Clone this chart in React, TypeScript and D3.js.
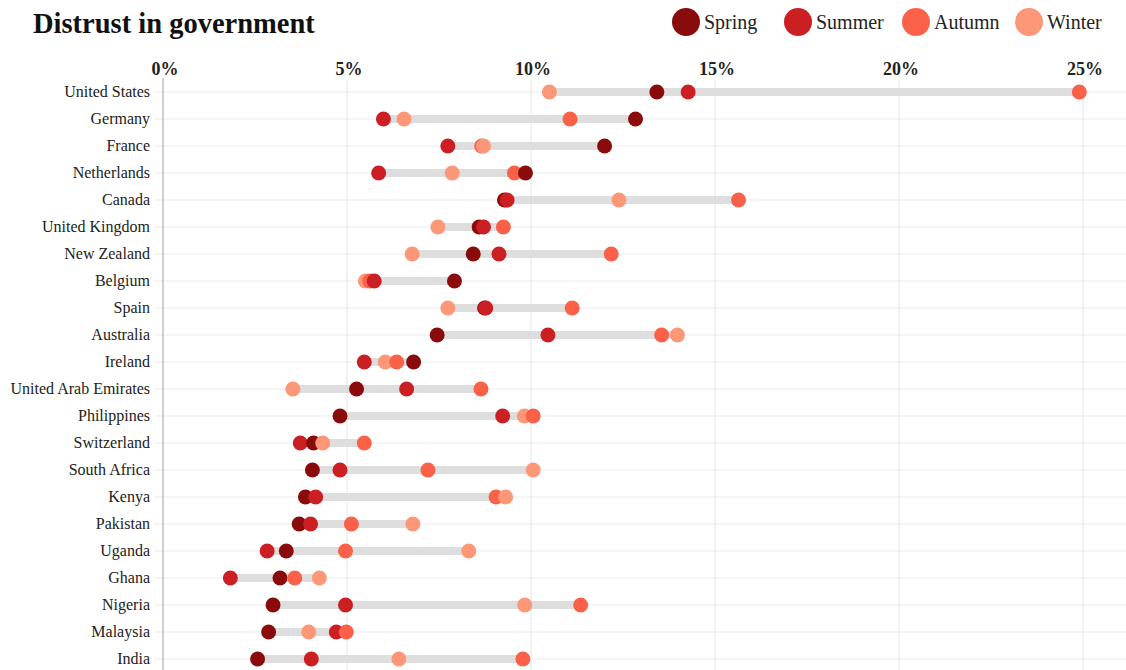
import React from 'react';
import * as d3 from 'd3';

// Distrust in government, share of respondents per season (%)
const countries = [
  'United States', 'Germany', 'France', 'Netherlands', 'Canada', 'United Kingdom',
  'New Zealand', 'Belgium', 'Spain', 'Australia', 'Ireland', 'United Arab Emirates',
  'Philippines', 'Switzerland', 'South Africa', 'Kenya', 'Pakistan', 'Uganda',
  'Ghana', 'Nigeria', 'Malaysia', 'India',
];

const seasons = ['Spring', 'Summer', 'Autumn', 'Winter'];

const spring = [13.42, 12.84, 12.0, 9.85, 9.28, 8.59, 8.43, 7.92, 8.74, 7.45, 6.81, 5.26, 4.81, 4.09, 4.06, 3.87, 3.7, 3.35, 3.18, 2.99, 2.87, 2.57];
const summer = [14.27, 5.99, 7.74, 5.86, 9.35, 8.71, 9.13, 5.74, 8.77, 10.46, 5.47, 6.62, 9.23, 3.73, 4.81, 4.15, 4.01, 2.83, 1.83, 4.96, 4.71, 4.03];
const autumn = [24.9, 11.06, 8.66, 9.55, 15.64, 9.25, 12.18, 5.62, 11.12, 13.55, 6.35, 8.64, 10.06, 5.47, 7.2, 9.05, 5.12, 4.96, 3.58, 11.35, 4.98, 9.78];
const winter = [10.5, 6.55, 8.71, 7.86, 12.39, 7.47, 6.77, 5.5, 7.74, 13.98, 6.04, 3.53, 9.82, 4.34, 10.06, 9.31, 6.79, 8.31, 4.25, 9.83, 3.96, 6.41];

const xTicks = [0, 5, 10, 15, 20, 25];

const seasonColors = ['#8a0b0b', '#cb1f24', '#fb6048', '#fc9777'];

const W = 1126;
const H = 670;
const FONT = '"Liberation Serif", "Times New Roman", serif';

export default function App() {
  const x = d3.scaleLinear().domain([0, 25]).range([163, 1083]);
  const y = d3.scalePoint().domain(countries).range([92, 659]);
  const color = d3.scaleOrdinal<string, string>().domain(seasons).range(seasonColors);

  const series = [spring, summer, autumn, winter];

  const rows = countries.map((c, i) => {
    const pts = seasons.map((s, k) => ({ season: s, value: series[k][i] }));
    pts.sort((a, b) => d3.ascending(a.value, b.value));
    return { country: c, pts, min: d3.min(pts, p => p.value) ?? 0, max: d3.max(pts, p => p.value) ?? 0 };
  });

  const legendX = [686, 798, 916, 1029];

  return (
    <svg width={W} height={H} style={{ position: 'absolute', left: 0, top: 0, background: '#fff' }} fontFamily={FONT}>
      <text x={33} y={33} fontSize={28.5} fontWeight="bold" fill="#111">Distrust in government</text>

      {seasons.map((s, k) => (
        <g key={s} transform={`translate(${legendX[k]},22)`}>
          <circle r={14} fill={color(s)} />
          <text x={18} y={7} fontSize={20} fill="#222">{s}</text>
        </g>
      ))}

      {/* row gridlines */}
      {countries.map(c => (
        <line key={c} x1={155} x2={W} y1={y(c)} y2={y(c)} stroke="#ececec" strokeWidth={1.2} />
      ))}

      {/* vertical gridlines */}
      {xTicks.filter(t => t > 0).map(t => (
        <line key={t} x1={x(t)} x2={x(t)} y1={80} y2={H} stroke="#e4e4e4" strokeWidth={1} />
      ))}
      <line x1={x(0)} x2={x(0)} y1={78} y2={H} stroke="#b5b5b5" strokeWidth={1.3} />

      {xTicks.map(t => (
        <text key={t} x={x(t) + 2} y={75} textAnchor="middle" fontSize={18} fontWeight="bold" fill="#222">{t}%</text>
      ))}

      {rows.map(r => (
        <g key={r.country} transform={`translate(0,${y(r.country)})`}>
          <text x={150} y={5} textAnchor="end" fontSize={16} fill="#222">{r.country}</text>
          <rect x={x(r.min)} y={-4} width={x(r.max) - x(r.min)} height={8} fill="#dedede" />
          {r.pts.map(p => (
            <circle key={p.season} cx={x(p.value)} cy={0} r={7.5} fill={color(p.season)} />
          ))}
        </g>
      ))}
    </svg>
  );
}
